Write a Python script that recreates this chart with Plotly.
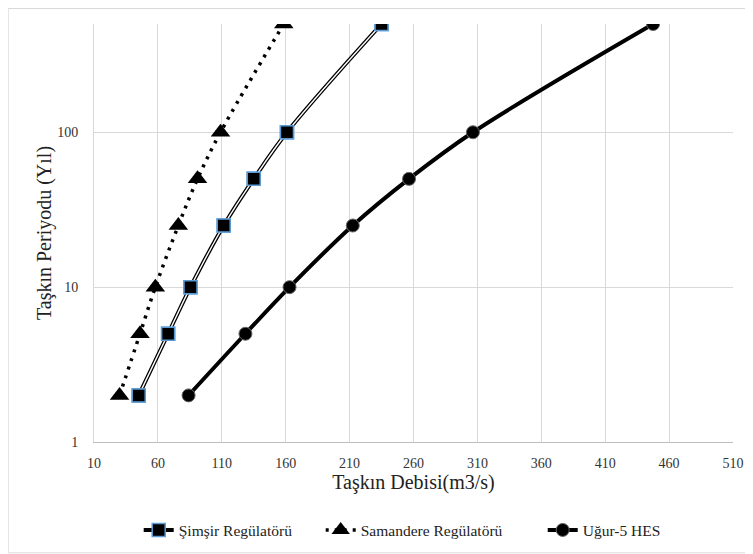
import plotly.graph_objects as go
import math

# Data
periods = [2, 5, 10, 25, 50, 100, 500]
simsir_q = [45, 68, 85.5, 111.5, 135, 161, 235]
samandere_q = [30, 46, 58, 76, 91, 109, 158.5]
ugur_q = [84, 128.5, 163, 212.5, 256.5, 306.5, 447.5]

x_ticks = [10, 60, 110, 160, 210, 260, 310, 360, 410, 460, 510]
y_ticks = [1, 10, 100]

names = ["Şimşir Regülatörü", "Samandere Regülatörü", "Uğur-5 HES"]

FONT = "Liberation Serif"

fig = go.Figure()

# Şimşir: double line (black outer + white inner)
fig.add_trace(go.Scatter(
    x=simsir_q, y=periods, mode="lines+markers", name=names[0],
    legend="legend", legendgroup="s", line=dict(color="black", width=4, shape="spline"),
    marker=dict(symbol="square", size=13, color="black",
                line=dict(color="#5B9BD5", width=1.5)),
))
fig.add_trace(go.Scatter(
    x=simsir_q, y=periods, mode="lines", showlegend=False, legendgroup="s",
    line=dict(color="white", width=1.4, shape="spline"), hoverinfo="skip",
))
fig.add_trace(go.Scatter(
    x=simsir_q, y=periods, mode="markers", showlegend=False, legendgroup="s",
    marker=dict(symbol="square", size=13, color="black",
                line=dict(color="#5B9BD5", width=1.5)), hoverinfo="skip",
))

# Samandere: dotted line with triangles
fig.add_trace(go.Scatter(
    x=samandere_q, y=periods, mode="lines+markers", name=names[1],
    legend="legend2",
    line=dict(color="black", width=3.5, dash="3px,6px", shape="spline"),
    marker=dict(symbol="triangle-up", size=17, color="black"),
))

# Uğur-5: thick solid line with circles
fig.add_trace(go.Scatter(
    x=ugur_q, y=periods, mode="lines+markers", name=names[2],
    legend="legend3",
    line=dict(color="black", width=4, shape="spline"),
    marker=dict(symbol="circle", size=13, color="black",
                line=dict(color="#666666", width=1)),
))

# page body has an 8px margin, so the figure starts at (8, 8)
OFF = 8
W, H = 753 - OFF, 554 - OFF
L = 94.3 - OFF
T = 24 - OFF
R = W - (733.3 - OFF)
B = H - (441.7 - OFF)
pw = W - L - R
ph = H - T - B

def px_to_paper_x(px):
    return (px - OFF - L) / pw

def px_to_paper_y(py):
    return (H - B - (py - OFF)) / ph

def leg(box_left):
    return dict(
        orientation="h", x=px_to_paper_x(box_left), xanchor="left",
        y=px_to_paper_y(530), yanchor="middle",
        font=dict(family=FONT, size=15.5, color="#222222"),
        bgcolor="rgba(0,0,0,0)",
    )

fig.update_layout(
    width=W, height=H,
    margin=dict(l=L, r=R, t=T, b=B, autoexpand=False),
    paper_bgcolor="white", plot_bgcolor="white",
    font=dict(family=FONT, color="#222222", size=14),
    showlegend=True,
    legend=leg(139),
    legend2=leg(321),
    legend3=leg(543),
    shapes=[dict(
        type="rect", xref="paper", yref="paper",
        x0=px_to_paper_x(8.5), x1=px_to_paper_x(752.5),
        y0=px_to_paper_y(552.5), y1=px_to_paper_y(8.5),
        line=dict(color="#D9D9D9", width=1),
    )],
)

fig.update_xaxes(
    range=[10, 510], tickvals=x_ticks, ticktext=[str(v) for v in x_ticks],
    showgrid=True, gridcolor="#D9D9D9", gridwidth=1,
    showline=True, linecolor="#BFBFBF", linewidth=1,
    zeroline=False, ticks="", ticklabelstandoff=8,
    tickfont=dict(family=FONT, size=14, color="#333333"),
    title=dict(text="Taşkın Debisi(m3/s)", font=dict(family=FONT, size=20, color="#222222"),
               standoff=1),
)
fig.update_yaxes(
    type="log", range=[0, math.log10(500)], tickvals=y_ticks,
    ticktext=[str(v) for v in y_ticks],
    showgrid=True, gridcolor="#D9D9D9", gridwidth=1,
    showline=True, linecolor="#D9D9D9", linewidth=1,
    zeroline=False, ticks="", ticklabelstandoff=12,
    tickfont=dict(family=FONT, size=14, color="#333333"),
    title=dict(text="Taşkın Periyodu (Yıl)", font=dict(family=FONT, size=20, color="#222222"),
               standoff=0),
)

fig.write_html("out.html")
